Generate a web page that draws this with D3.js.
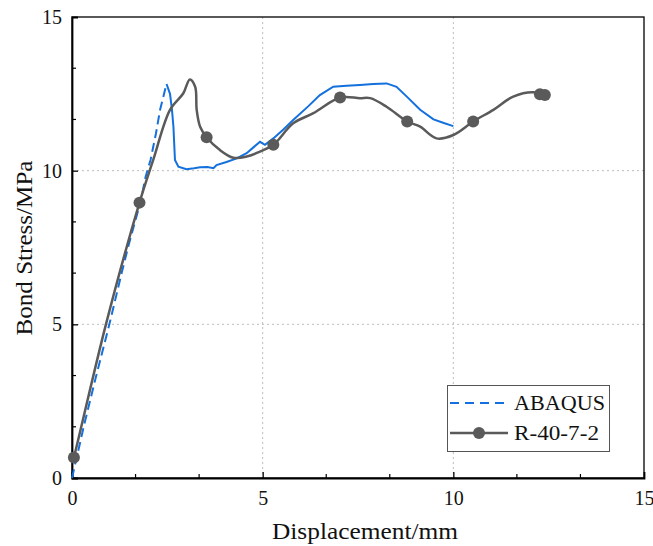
<!DOCTYPE html>
<html><head><meta charset="utf-8">
<script src="https://cdn.jsdelivr.net/npm/d3@7"></script>
<style>body{margin:0;background:#fff}svg text{font-family:"Liberation Serif","DejaVu Serif",serif}</style>
</head><body>
<svg id="c" width="653" height="546"></svg>
<script>
// ABAQUS (blue dashed) – rising part
const abaqusRiseX = [0, 0.33, 0.63, 0.98, 1.30, 1.50, 1.80, 1.93, 2.06, 2.2, 2.31, 2.44, 2.48];
const abaqusRiseY = [0, 1.79, 3.3, 5.0, 6.66, 7.65, 9.0, 9.8, 10.35, 11.2, 11.98, 12.63, 12.82];
// ABAQUS – post-peak part
const abaqusPostX = [2.48, 2.57, 2.62, 2.66, 2.70, 2.79, 3.0, 3.2, 3.36, 3.55, 3.71, 3.79, 4.05, 4.32, 4.58, 4.75, 4.93, 5.06, 5.28, 5.55, 5.80, 6.2, 6.50, 6.85, 7.2, 7.55, 7.9, 8.25, 8.51, 8.78, 9.13, 9.48, 9.75, 10.0];
const abaqusPostY = [12.82, 12.5, 12.0, 11.43, 10.35, 10.13, 10.05, 10.08, 10.11, 10.12, 10.08, 10.18, 10.28, 10.40, 10.57, 10.75, 10.94, 10.84, 11.05, 11.35, 11.65, 12.1, 12.46, 12.73, 12.76, 12.79, 12.82, 12.84, 12.73, 12.41, 11.98, 11.67, 11.55, 11.45];
// R-40-7-2 test curve (gray)
const testX = [0.01, 0.05, 0.89, 1.77, 2.13, 2.57, 2.92, 3.09, 3.23, 3.27, 3.36, 3.53, 3.88, 4.23, 4.58, 4.93, 5.28, 5.80, 6.33, 7.03, 7.55, 7.82, 8.25, 8.79, 9.13, 9.56, 10.0, 10.52, 11.05, 11.57, 12.10, 12.27, 12.40];
const testY = [0.5, 0.67, 5.0, 8.96, 10.35, 11.98, 12.52, 12.97, 12.73, 11.98, 11.43, 11.09, 10.67, 10.42, 10.46, 10.62, 10.84, 11.54, 11.87, 12.38, 12.36, 12.36, 12.08, 11.60, 11.43, 11.05, 11.16, 11.60, 11.98, 12.41, 12.55, 12.49, 12.46];
// marker positions of R-40-7-2
const markerX = [0.05, 1.77, 3.53, 5.28, 7.03, 8.79, 10.52, 12.27, 12.40];
const markerY = [0.67, 8.96, 11.09, 10.84, 12.38, 11.60, 11.60, 12.49, 12.46];
const xTicks = [0, 5, 10, 15];
const yTicks = [0, 5, 10, 15];
const legendLabels = ["ABAQUS", "R-40-7-2"];

const svg = d3.select("#c");
const L = 72, R = 644, T = 17, B = 478;
const x = d3.scaleLinear().domain([0, 15]).range([L, R]);
const y = d3.scaleLinear().domain([0, 15]).range([B, T]);
const blue = "#1470dc", gray = "#5a5a5a";

// grid
const g = svg.append("g");
[5, 10].forEach(v => {
  g.append("line").attr("x1", x(v)).attr("x2", x(v)).attr("y1", T).attr("y2", B)
    .attr("stroke", "#bdbdbd").attr("stroke-width", 1).attr("stroke-dasharray", "2,3");
  g.append("line").attr("x1", L).attr("x2", R).attr("y1", y(v)).attr("y2", y(v))
    .attr("stroke", "#bdbdbd").attr("stroke-width", 1).attr("stroke-dasharray", "2,3");
});

// frame
svg.append("rect").attr("x", L).attr("y", T).attr("width", R - L).attr("height", B - T)
  .attr("fill", "none").attr("stroke", "#000").attr("stroke-width", 1.3);

// axes
const minor = d3.range(0, 15.01, 5 / 3);
const xAxis = d3.axisBottom(x).tickValues(xTicks).tickSize(-6).tickPadding(13).tickFormat(d3.format("d"));
const yAxis = d3.axisLeft(y).tickValues(yTicks).tickSize(-6).tickPadding(10).tickFormat(d3.format("d"));
const gx = svg.append("g").attr("transform", `translate(0,${B})`).call(xAxis);
const gy = svg.append("g").attr("transform", `translate(${L},0)`).call(yAxis);
[gx, gy].forEach(a => {
  a.select(".domain").attr("stroke", "#000").attr("stroke-width", 1.8);
  a.selectAll(".tick line").attr("stroke", "#000").attr("stroke-width", 1.3);
  a.selectAll(".tick text").attr("font-size", 20).attr("fill", "#111")
    .style("font-family", '"Liberation Serif", serif');
});
gy.selectAll(".tick text").attr("dy", "0.32em");
gx.select(".tick:last-of-type line").remove();
gy.select(".tick:last-of-type line").remove();
svg.append("g").selectAll("line").data(minor.filter((d, i) => i % 3 !== 0)).join("line")
  .attr("x1", d => x(d)).attr("x2", d => x(d)).attr("y1", B).attr("y2", B - 4)
  .attr("stroke", "#000").attr("stroke-width", 1.2);
svg.append("g").selectAll("line").data(minor.filter((d, i) => i % 3 !== 0)).join("line")
  .attr("x1", L).attr("x2", L + 4).attr("y1", d => y(d)).attr("y2", d => y(d))
  .attr("stroke", "#000").attr("stroke-width", 1.2);

// axis titles
svg.append("text").attr("x", 365).attr("y", 539).attr("text-anchor", "middle")
  .attr("font-size", 23).attr("fill", "#111")
  .attr("textLength", 186).attr("lengthAdjust", "spacingAndGlyphs").text("Displacement/mm");
svg.append("text").attr("transform", `translate(32,248) rotate(-90)`)
  .attr("text-anchor", "middle").attr("font-size", 23).attr("fill", "#111")
  .attr("textLength", 175).attr("lengthAdjust", "spacingAndGlyphs").text("Bond Stress/MPa");

// lines
const line = d3.line().x(d => x(d[0])).y(d => y(d[1]));
const smooth = d3.line().x(d => x(d[0])).y(d => y(d[1])).curve(d3.curveCatmullRom.alpha(0.5));
svg.append("path").datum(abaqusRiseX.map((v, i) => [v, abaqusRiseY[i]]))
  .attr("d", line).attr("fill", "none").attr("stroke", blue).attr("stroke-width", 2)
  .attr("stroke-dasharray", "9,5");
svg.append("path").datum(abaqusPostX.map((v, i) => [v, abaqusPostY[i]]))
  .attr("d", line).attr("fill", "none").attr("stroke", blue).attr("stroke-width", 2);
svg.append("path").datum(testX.map((v, i) => [v, testY[i]]))
  .attr("d", smooth).attr("fill", "none").attr("stroke", gray).attr("stroke-width", 2.5);
svg.append("g").selectAll("circle").data(markerX.map((v, i) => [v, markerY[i]])).join("circle")
  .attr("cx", d => x(d[0])).attr("cy", d => y(d[1])).attr("r", 6).attr("fill", gray);

// legend
const lg = svg.append("g");
lg.append("rect").attr("x", 447.5).attr("y", 385.5).attr("width", 162).attr("height", 66)
  .attr("fill", "#fff").attr("stroke", "#555").attr("stroke-width", 1);
lg.append("line").attr("x1", 450).attr("x2", 508).attr("y1", 403).attr("y2", 403)
  .attr("stroke", blue).attr("stroke-width", 2).attr("stroke-dasharray", "9,6");
lg.append("line").attr("x1", 450).attr("x2", 508).attr("y1", 433).attr("y2", 433)
  .attr("stroke", gray).attr("stroke-width", 2.5);
lg.append("circle").attr("cx", 479).attr("cy", 433).attr("r", 6).attr("fill", gray);
const legendLen = [91, 85];
legendLabels.forEach((t, i) => {
  lg.append("text").attr("x", 514).attr("y", 403 + i * 30).attr("dy", "0.35em")
    .attr("font-size", 20).attr("fill", "#111")
    .attr("textLength", legendLen[i]).attr("lengthAdjust", "spacingAndGlyphs").text(t);
});
</script>
</body></html>
